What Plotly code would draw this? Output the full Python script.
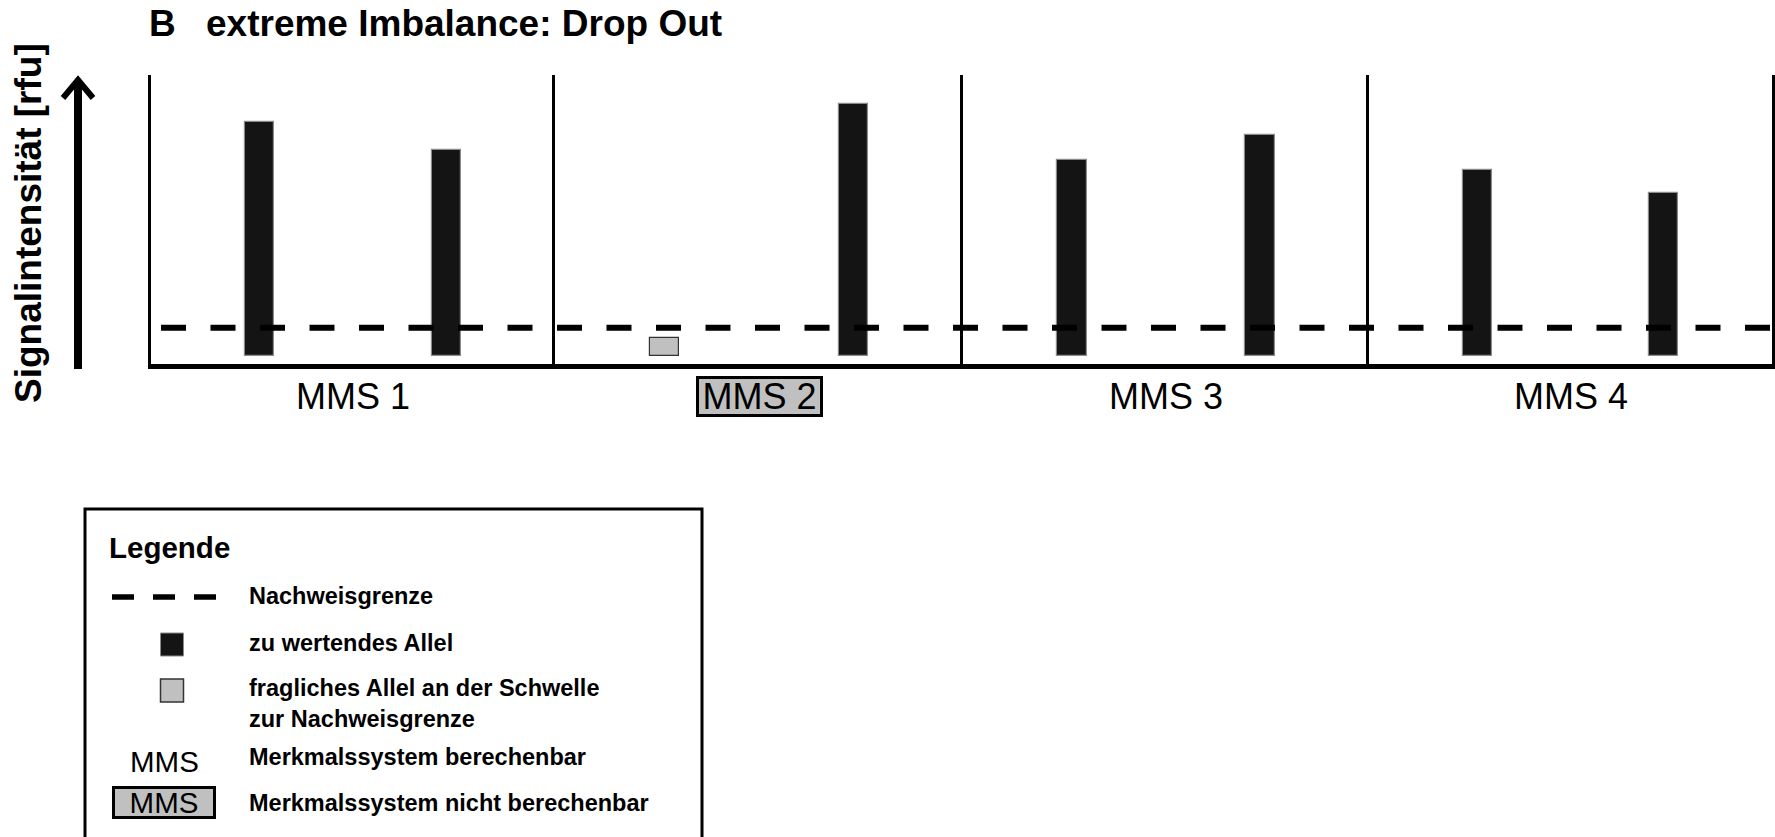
import plotly.graph_objects as go

# ---- data -------------------------------------------------------------
systems = ["MMS 1", "MMS 2", "MMS 3", "MMS 4"]
allele_slots = ["Allel 1", "Allel 2"]
allele_1 = [234, 18, 196, 186]      # signal of the first allele per system [rfu]
allele_2 = [206, 252, 221, 163]     # signal of the second allele per system [rfu]
detection_limit = 28                # Nachweisgrenze [rfu]
system_calculable = [True, False, True, True]

title_letter = "B"
title_text = "extreme Imbalance: Drop Out"
y_title = "Signalintensität [rfu]"
legend_title = "Legende"
legend_items = [
    "Nachweisgrenze",
    "zu wertendes Allel",
    "fragliches Allel an der Schwelle<br>zur Nachweisgrenze",
    "Merkmalssystem berechenbar",
    "Merkmalssystem nicht berechenbar",
]
legend_mms = "MMS"

# ---- styling ------------------------------------------------------------
W, H = 1775, 837
DARK = "#141414"
GREY = "#c0c0c0"
SANS = "Liberation Sans, Arial, Helvetica, sans-serif"


def fx(px):
    return px / W


def fy(py):
    return 1 - py / H


panel_edges = [151, 555, 963, 1369, 1772]
plot_top, plot_bottom = 75, 363.5
y_range = [-7.8, 280.7]

fig = go.Figure()
layout = dict(
    width=W, height=H,
    margin=dict(l=0, r=0, t=0, b=0),
    paper_bgcolor="white", plot_bgcolor="white",
    showlegend=False, bargap=0,
)

annotations = []
shapes = []

for i, name in enumerate(systems):
    n = "" if i == 0 else str(i + 1)
    values = [allele_1[i], allele_2[i]]
    colors = [GREY if v < detection_limit else DARK for v in values]
    edges = ["#333333" if v < detection_limit else "#8a8a8a" for v in values]
    fig.add_trace(go.Bar(
        x=allele_slots, y=values, width=0.155,
        marker=dict(color=colors, line=dict(color=edges, width=1.2)),
        xaxis="x" + n, yaxis="y" + n, hoverinfo="skip",
    ))
    layout["xaxis" + n] = dict(
        domain=[fx(panel_edges[i]), fx(panel_edges[i + 1])],
        anchor="y" + n, type="category", categoryarray=allele_slots,
        range=[-0.58, 1.58], showgrid=False, zeroline=False,
        showticklabels=False, ticks="", showline=True,
        linecolor="black", linewidth=5,
    )
    layout["yaxis" + n] = dict(
        domain=[fy(plot_bottom), fy(plot_top)], anchor="x" + n,
        range=y_range, showgrid=False, zeroline=False,
        showticklabels=False, ticks="", showline=True,
        linecolor="black", linewidth=3,
        mirror=(i == len(systems) - 1),
    )
    label = dict(
        text=name, xref="x" + n + " domain", yref="paper",
        x=0.5, y=fy(396), xanchor="center", yanchor="middle",
        showarrow=False, font=dict(family=SANS, size=36, color="black"),
    )
    if not system_calculable[i]:
        label.update(bgcolor=GREY, bordercolor="black", borderwidth=3,
                     width=121, height=35, borderpad=0)
    annotations.append(label)

# detection limit across all systems
shapes.append(dict(
    type="line", xref="paper", yref="y",
    x0=fx(161), x1=fx(1772), y0=detection_limit, y1=detection_limit,
    line=dict(color="black", width=6, dash="25px,24.5px"), layer="above",
))

# title
annotations.append(dict(
    text=f"<b>{title_letter}</b>", xref="paper", yref="paper",
    x=fx(147), y=fy(23), xanchor="left", yanchor="middle", showarrow=False,
    font=dict(family=SANS, size=37, color="black"),
))
annotations.append(dict(
    text=f"<b>{title_text}</b>", xref="paper", yref="paper",
    x=fx(204), y=fy(23), xanchor="left", yanchor="middle", showarrow=False,
    font=dict(family=SANS, size=37, color="black"),
))

# vertical axis title and arrow
annotations.append(dict(
    text=f"<b>{y_title}</b>", xref="paper", yref="paper",
    x=fx(28), y=fy(223), xanchor="center", yanchor="middle",
    textangle=-90, showarrow=False,
    font=dict(family=SANS, size=37, color="black"),
))
shapes.append(dict(
    type="line", xref="paper", yref="paper",
    x0=fx(78), x1=fx(78), y0=fy(369), y1=fy(82),
    line=dict(color="black", width=8),
))
shapes.append(dict(
    type="path", xref="paper", yref="paper",
    path=f"M{fx(63)},{fy(98)} L{fx(78)},{fy(80)} L{fx(93)},{fy(98)}",
    line=dict(color="black", width=6),
))

# ---- legend box ---------------------------------------------------------
shapes.append(dict(
    type="rect", xref="paper", yref="paper",
    x0=fx(85), x1=fx(702), y0=fy(509), y1=fy(845),
    line=dict(color="black", width=3), fillcolor="rgba(0,0,0,0)",
))
annotations.append(dict(
    text=f"<b>{legend_title}</b>", xref="paper", yref="paper",
    x=fx(107), y=fy(547), xanchor="left", yanchor="middle", showarrow=False,
    font=dict(family=SANS, size=29.5, color="black"),
))
shapes.append(dict(
    type="line", xref="paper", yref="paper",
    x0=fx(112), x1=fx(216), y0=fy(597), y1=fy(597),
    line=dict(color="black", width=5.5, dash="22px,19px"),
))
shapes.append(dict(
    type="rect", xref="paper", yref="paper",
    x0=fx(160.5), x1=fx(183.5), y0=fy(656), y1=fy(633),
    fillcolor=DARK, line=dict(color="#8a8a8a", width=1),
))
shapes.append(dict(
    type="rect", xref="paper", yref="paper",
    x0=fx(160.5), x1=fx(183.5), y0=fy(702), y1=fy(679),
    fillcolor=GREY, line=dict(color="#333333", width=1.5),
))
annotations.append(dict(
    text=legend_mms, xref="paper", yref="paper",
    x=fx(164), y=fy(761), xanchor="center", yanchor="middle", showarrow=False,
    font=dict(family=SANS, size=29.5, color="black"),
))
annotations.append(dict(
    text=legend_mms, xref="paper", yref="paper",
    x=fx(164), y=fy(802), xanchor="center", yanchor="middle", showarrow=False,
    bgcolor=GREY, bordercolor="black", borderwidth=3, borderpad=0,
    width=98, height=27,
    font=dict(family=SANS, size=29.5, color="black"),
))
legend_rows = [596, 643, 703, 757, 803]
for text, row in zip(legend_items, legend_rows):
    annotations.append(dict(
        text=f"<b>{text}</b>", xref="paper", yref="paper",
        x=fx(247), y=fy(row), xanchor="left", yanchor="middle", align="left",
        showarrow=False, font=dict(family=SANS, size=23.5, color="black"),
    ))

layout["annotations"] = annotations
layout["shapes"] = shapes
fig.update_layout(**layout)
fig.write_html("out.html")
